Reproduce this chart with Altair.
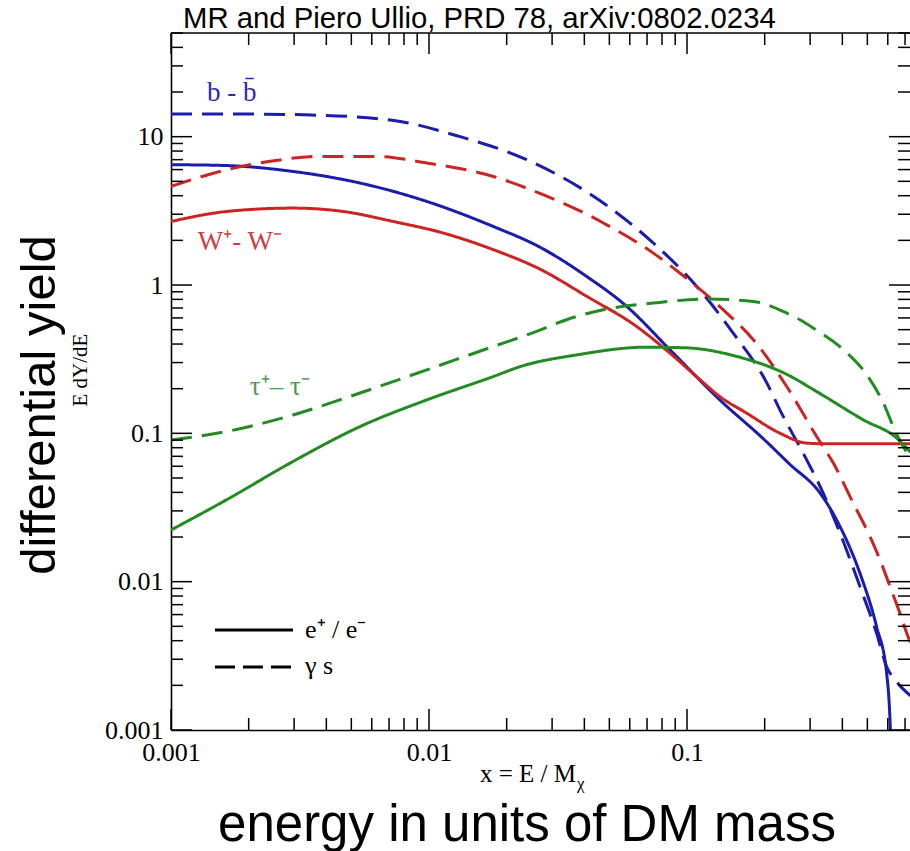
import altair as alt
import pandas as pd

# ---------------- data ----------------
# b-bbar, gamma-rays (dashed blue)
bb_gam_x = [0.001, 0.002, 0.0035, 0.0072, 0.0132, 0.0239, 0.0474, 0.074, 0.109,
            0.151, 0.204, 0.229, 0.291, 0.328, 0.392, 0.468, 0.543, 0.594, 0.65, 0.735]
bb_gam_y = [14.2, 14.2, 14.0, 12.9, 10.0, 7.0, 3.57, 1.92, 0.98,
            0.474, 0.218, 0.144, 0.0662, 0.0438, 0.0212, 0.00927, 0.00449, 0.00267, 0.00211, 0.0017]
# b-bbar, positrons (solid blue)
bb_pos_x = [0.001, 0.00159, 0.00297, 0.0054, 0.0098, 0.01776, 0.0269, 0.0409, 0.0584,
            0.0859, 0.134, 0.1975, 0.25, 0.328, 0.392, 0.468, 0.543, 0.594, 0.612, 0.617]
bb_pos_y = [6.47, 6.4, 5.83, 4.87, 3.66, 2.48, 1.8, 1.14, 0.717,
            0.366, 0.168, 0.092, 0.062, 0.0395, 0.0235, 0.0114, 0.00497, 0.00241, 0.00117, 0.0008]
# W+W-, gamma-rays (dashed red)
ww_gam_x = [0.001, 0.00164, 0.00242, 0.00378, 0.00627, 0.0098, 0.01776, 0.0239, 0.0474, 0.074,
            0.094, 0.1426, 0.1807, 0.2434, 0.318, 0.369, 0.441, 0.512, 0.56, 0.612, 0.669, 0.719, 0.735]
ww_gam_y = [4.62, 5.98, 6.82, 7.36, 7.36, 6.65, 5.39, 4.5, 2.62, 1.64,
            1.20, 0.647, 0.428, 0.207, 0.0952, 0.063, 0.0338, 0.0201, 0.014, 0.00927, 0.00612, 0.00426, 0.0039]
# W+W-, positrons (solid red)
ww_pos_x = [0.001, 0.00164, 0.00297, 0.00466, 0.00727, 0.01136, 0.01776, 0.0269, 0.0409,
            0.0638, 0.0859, 0.1123, 0.134, 0.170, 0.229, 0.291, 0.35, 0.5, 0.6, 0.735]
ww_pos_y = [2.68, 3.13, 3.30, 3.13, 2.68, 2.24, 1.73, 1.28, 0.838,
            0.525, 0.347, 0.23, 0.177, 0.137, 0.1003, 0.0859, 0.085, 0.085, 0.085, 0.085]
# tau+tau-, gamma-rays (dashed green)
tt_gam_x = [0.001, 0.00164, 0.00297, 0.0054, 0.0098, 0.01776, 0.0239, 0.0374, 0.0474, 0.074,
            0.119, 0.1807, 0.2434, 0.274, 0.309, 0.404, 0.5, 0.577, 0.65, 0.735]
tt_gam_y = [0.0903, 0.1028, 0.133, 0.187, 0.268, 0.385, 0.46, 0.614, 0.681, 0.755,
            0.804, 0.775, 0.647, 0.583, 0.512, 0.366, 0.245, 0.160, 0.098, 0.068]
# tau+tau-, positrons (solid green)
tt_pos_x = [0.001, 0.00164, 0.00297, 0.0054, 0.0098, 0.01776, 0.0226, 0.0374, 0.0698, 0.0995,
            0.1558, 0.2434, 0.32, 0.4824, 0.65, 0.735]
tt_pos_y = [0.0223, 0.0356, 0.0646, 0.111, 0.168, 0.2416, 0.282, 0.338, 0.381, 0.377,
            0.33, 0.25, 0.19, 0.1233, 0.0928, 0.0745]

channels = ["bb", "WW", "tautau"]
channel_colors = ["#1c1cac", "#cc2424", "#238b23"]
kinds = ["e+/e-", "gamma"]

x_label_values = [0.001, 0.01, 0.1]
y_label_values = [0.001, 0.01, 0.1, 1, 10]

annot_text = ["b - b\u0304", "W\u207a- W\u207b", "\u03c4\u207a\u2013 \u03c4\u207b"]
annot_x = [0.00138, 0.00127, 0.00202]
annot_y = [17.5, 1.73, 0.182]
annot_color = ["#2a2ab4", "#d23c3c", "#4c9c4c"]

# ---------------- tables ----------------
rows = []
for ch, kind, xs, ys in [
    ("bb", "gamma", bb_gam_x, bb_gam_y),
    ("bb", "e+/e-", bb_pos_x, bb_pos_y),
    ("WW", "gamma", ww_gam_x, ww_gam_y),
    ("WW", "e+/e-", ww_pos_x, ww_pos_y),
    ("tautau", "gamma", tt_gam_x, tt_gam_y),
    ("tautau", "e+/e-", tt_pos_x, tt_pos_y),
]:
    for xv, yv in zip(xs, ys):
        rows.append({"x": xv, "y": yv, "channel": ch, "kind": kind})
df = pd.DataFrame(rows)

XMIN, XMAX = 0.001, 0.7316
YMIN, YMAX = 0.001, 50.0


def tick_table(lo, hi, major):
    vals = []
    for k in range(-3, 2):
        for m in range(1, 10):
            v = round(m * 10.0 ** k, 6)
            if lo <= v <= hi and ((m == 1) == major):
                vals.append(v)
    return pd.DataFrame({"v": vals})


W, H = 739, 697
MAJ, MIN = 21, 12

xscale = alt.Scale(type="log", domain=[XMIN, XMAX])
yscale = alt.Scale(type="log", domain=[YMIN, YMAX])

SERIF = "Liberation Serif"
SANS = "Liberation Sans"

x_axis = alt.Axis(values=x_label_values, format="~g", ticks=False, grid=False, title=None,
                  labelFont=SERIF, labelFontSize=26, labelColor="black", labelPadding=9,
                  labelFlush=False, labelOverlap=False, domainColor="black", domainWidth=1.6)
y_axis = alt.Axis(values=y_label_values, format="~g", ticks=False, grid=False, title=None,
                  labelFont=SERIF, labelFontSize=26, labelColor="black", labelPadding=8,
                  labelOverlap=False, domainColor="black", domainWidth=1.6)

lines = alt.Chart(df).mark_line(strokeWidth=3, clip=True, interpolate="monotone").encode(
    x=alt.X("x:Q", scale=xscale, axis=x_axis),
    y=alt.Y("y:Q", scale=yscale, axis=y_axis),
    color=alt.Color("channel:N", scale=alt.Scale(domain=channels, range=channel_colors), legend=None),
    strokeDash=alt.StrokeDash("kind:N", scale=alt.Scale(domain=kinds, range=[[1, 0], [21, 10]]), legend=None),
)

tick_layers = []
for major in (True, False):
    L = MAJ if major else MIN
    xt = tick_table(XMIN, XMAX, major)
    yt = tick_table(YMIN, YMAX, major)
    base_x = alt.Chart(xt).mark_rule(color="black", strokeWidth=1.5)
    base_y = alt.Chart(yt).mark_rule(color="black", strokeWidth=1.5)
    tick_layers += [
        base_x.encode(x=alt.X("v:Q", scale=xscale, axis=x_axis), y=alt.value(H), y2=alt.value(H - L)),
        base_x.encode(x=alt.X("v:Q", scale=xscale, axis=x_axis), y=alt.value(0), y2=alt.value(L)),
        base_y.encode(y=alt.Y("v:Q", scale=yscale, axis=y_axis), x=alt.value(0), x2=alt.value(L)),
        base_y.encode(y=alt.Y("v:Q", scale=yscale, axis=y_axis), x=alt.value(W), x2=alt.value(W - L)),
    ]

one = pd.DataFrame({"a": [0]})
top_frame = alt.Chart(one).mark_rule(color="black", strokeWidth=1.6).encode(
    x=alt.value(0), x2=alt.value(W), y=alt.value(0))

annot_df = pd.DataFrame({"x": annot_x, "y": annot_y, "t": annot_text, "c": annot_color})
annots = alt.Chart(annot_df).mark_text(font=SERIF, fontSize=27, align="left", baseline="alphabetic").encode(
    x=alt.X("x:Q", scale=xscale, axis=x_axis),
    y=alt.Y("y:Q", scale=yscale, axis=y_axis),
    text="t:N",
    color=alt.Color("c:N", scale=None),
)

# legend key
leg_solid = alt.Chart(one).mark_rule(color="black", strokeWidth=3).encode(
    x=alt.value(44), x2=alt.value(122), y=alt.value(597))
leg_dash = alt.Chart(one).mark_rule(color="black", strokeWidth=3, strokeDash=[20, 8]).encode(
    x=alt.value(44), x2=alt.value(120), y=alt.value(634))
leg_t1 = alt.Chart(one).mark_text(text="e\u207a / e\u207b", font=SERIF, fontSize=26, align="left",
                                  baseline="alphabetic").encode(x=alt.value(134), y=alt.value(605))
leg_t2 = alt.Chart(one).mark_text(text="\u03b3 s", font=SERIF, fontSize=26, align="left",
                                  baseline="alphabetic").encode(x=alt.value(134), y=alt.value(641))

# titles / texts
title = alt.Chart(one).mark_text(text="MR and Piero Ullio, PRD 78, arXiv:0802.0234", font=SANS,
                                 fontSize=29.3, align="left", baseline="alphabetic").encode(
    x=alt.value(12), y=alt.value(-5))
ylab_big = alt.Chart(one).mark_text(text="differential yield", font=SANS, fontSize=49, angle=270,
                                    align="center", baseline="middle").encode(
    x=alt.value(-131), y=alt.value(372))
ylab_small = alt.Chart(one).mark_text(text="E dY/dE", font=SERIF, fontSize=21, angle=270,
                                      align="center", baseline="middle").encode(
    x=alt.value(-90), y=alt.value(337))
xlab_small = alt.Chart(one).mark_text(text="x = E / M", font=SERIF, fontSize=25, align="left",
                                      baseline="alphabetic").encode(x=alt.value(309), y=alt.value(749))
xlab_sub = alt.Chart(one).mark_text(text="\u03c7", font=SERIF, fontSize=17, align="left",
                                    baseline="alphabetic").encode(x=alt.value(406), y=alt.value(756))
xlab_big = alt.Chart(one).mark_text(text="energy in units of DM mass", font=SANS, fontSize=51,
                                    align="center", baseline="alphabetic").encode(
    x=alt.value(356), y=alt.value(808))

chart = alt.layer(
    lines, *tick_layers, top_frame, annots, leg_solid, leg_dash, leg_t1, leg_t2,
    title, ylab_big, ylab_small, xlab_small, xlab_sub, xlab_big,
).properties(
    width=W, height=H,
    padding={"left": 171, "top": 33, "right": 0, "bottom": 121},
    autosize=alt.AutoSizeParams(type="none"),
    background="white",
).configure_view(stroke=None)

chart.save("out.html", embed_options={"renderer": "svg", "actions": False})
